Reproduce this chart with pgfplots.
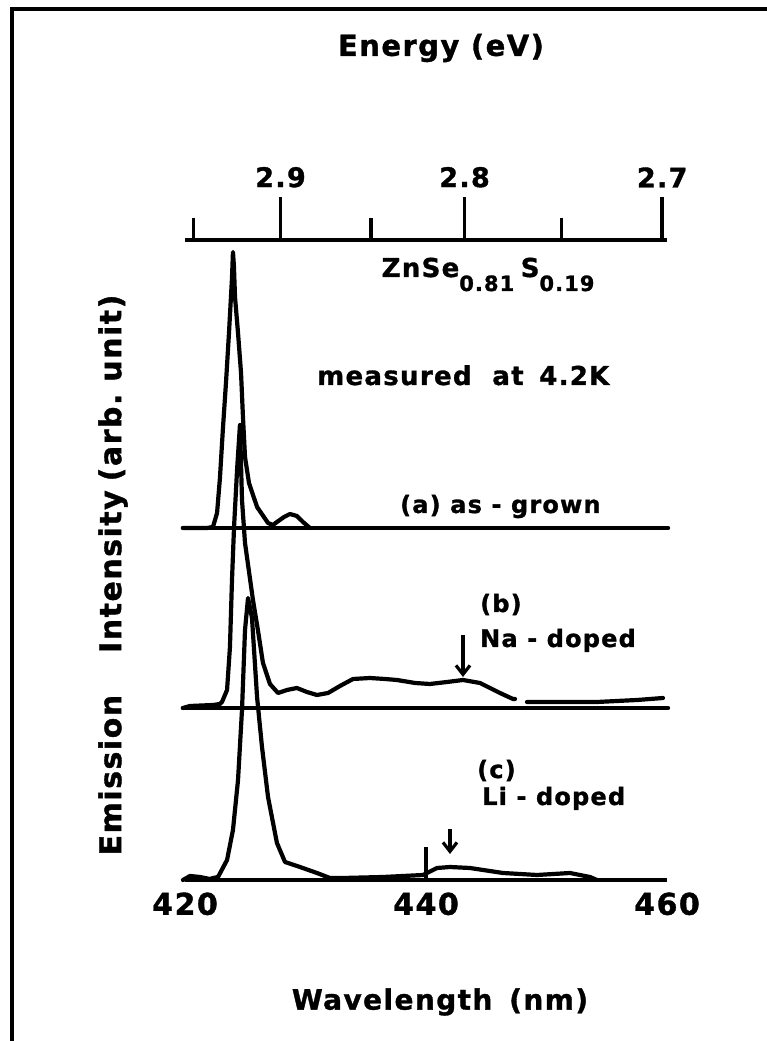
\documentclass[border=0pt]{standalone}
\usepackage{fontspec}
\setmainfont{DejaVu Sans}[LetterSpace=5, BoldFeatures={FakeBold=1.2}]
\usepackage{pgfplots}
\usepackage{pgfplotstable}
\pgfplotsset{compat=1.18}
\usetikzlibrary{arrows.meta}

\newcommand\lab[1]{\fontsize{#1}{#1}\selectfont\bfseries}

% Emission spectra: wavelength (nm) and height above each trace's own baseline
\pgfplotstableread{
x y
419.83 0
421.83 0
422.32 1
422.66 15
422.90 50
423.15 100
423.40 145
423.65 195
423.90 250
423.98 276
424.06 262
424.15 231
424.40 195
424.65 155
424.81 111
424.98 71
425.31 45
425.98 21
426.89 5
427.30 3
427.63 6
428.22 11
428.71 14
429.29 12
429.79 6
430.37 0
}\specA

\pgfplotstableread{
x y
419.83 0
420.41 2
422.32 3
422.90 4
423.07 6
423.49 18
423.73 61
423.90 128
424.07 181
424.32 238
424.56 283
424.73 208
424.98 165
425.64 108
426.05 78
426.47 45
427.05 24
427.72 15
428.46 18
429.29 20
430.12 16
430.95 13
431.87 15
432.86 22
433.94 29
435.35 30
436.60 29
437.59 28
439.09 25
440.33 24
441.74 26
443.07 28
444.48 25
445.31 20
446.14 15
447.22 9
447.39 9
nan nan
448.38 6
451.20 6
454.19 6
457.51 8
459.67 10
}\specB

\pgfplotstableread{
x y
419.83 0
420.41 4
421.24 3
422.07 1
422.32 2
422.74 3
423.49 20
423.98 50
424.40 100
424.73 170
424.98 250
425.23 282
425.40 272
425.56 262
425.98 183
426.39 133
426.89 83
427.63 37
428.30 18
429.54 13
430.95 7
432.03 2
433.11 2
436.43 3
439.75 5
440.91 12
441.99 13
443.65 12
446.39 7
449.21 5
451.95 7
453.61 3
454.19 0
}\specC

\tikzset{trace/.style={black, mark=none, line width=4.2pt, line join=round, line cap=round}}

\begin{document}
\begin{tikzpicture}
% outer frame
\draw[line width=3.5pt] (12pt,-20pt) -- (12pt,1032pt) -- (800pt,1032pt);

% wavelength axis and the three spectra
\begin{axis}[
  at={(185pt,161pt)}, anchor=south west,
  scale only axis, width=482pt, height=640pt,
  xmin=420, xmax=460, ymin=0, ymax=640,
  axis x line*=bottom, axis y line=none,
  x axis line style={line width=4.5pt,-},
  xtick={420,440,460},
  major tick length=0pt,
  /pgf/number format/assume math mode=true,
  xticklabel style={font=\lab{30}, yshift=-9pt},
  extra x ticks={440}, extra x tick labels={},
  extra x tick style={major tick length=33pt, tick align=inside,
                      tick style={line width=3.5pt, black}},
  clip=false,
  unbounded coords=jump,
]
% baselines of (a) and (b)
\addplot[trace, line width=4.5pt] coordinates {(419.83,352) (460.08,352)};
\addplot[trace, line width=4.5pt] coordinates {(419.83,172) (460.08,172)};

\addplot[trace] table[x=x, y expr=\thisrow{y}+352] {\specA};
\addplot[trace] table[x=x, y expr=\thisrow{y}+172] {\specB};
\addplot[trace] table[x=x, y=y] {\specC};

\draw[line width=3.2pt, -{Straight Barb[length=9pt,width=14pt]}] (443.07,245) -- (443.07,203);
\draw[line width=3.2pt, -{Straight Barb[length=9pt,width=14pt]}] (441.99,51) -- (441.99,26);

\node[anchor=base, inner sep=0pt] at (445.15,603)
  {\lab{26}ZnSe\raisebox{-14pt}{\lab{21}0.81}\hspace{0.25em}S\raisebox{-14pt}{\lab{21}0.19}};
\node[anchor=base west, inner sep=0pt] at (430.95,495) {\lab{26}measured\hspace{0.8em}at\hspace{0.6em}4.2K};
\node[anchor=base west, inner sep=0pt] at (437.84,367) {\lab{24}(a) as - grown};
\node[anchor=base west, inner sep=0pt] at (444.48,268) {\lab{24}(b)};
\node[anchor=base west, inner sep=0pt] at (444.48,233) {\lab{24}Na - doped};
\node[anchor=base west, inner sep=0pt] at (444.23,102) {\lab{24}(c)};
\node[anchor=base west, inner sep=0pt] at (444.65,75) {\lab{24}Li - doped};
\end{axis}

% photon energy scale along the top
\begin{axis}[
  at={(185pt,161pt)}, anchor=south west,
  scale only axis, width=482pt, height=640pt,
  xmin=419.6, xmax=459.6, ymin=0, ymax=640,
  axis x line*=top, axis y line=none,
  x axis line style={line width=4.5pt,-},
  xtick={427.53,442.80,459.20}, xticklabels={2.9,2.8,2.7},
  minor xtick={420.30,435.03,450.85},
  tick align=outside,
  major tick length=43pt, minor tick length=22pt,
  tick style={line width=3.5pt, black},
  xticklabel style={font=\lab{27}, yshift=6pt},
]
\addplot[draw=none] coordinates {(430,0)};
\end{axis}

\node at (441pt,993pt) {\lab{29}Energy\hspace{0.4em}(eV)};
\node at (440pt,39pt) {\lab{28}Wavelength\hspace{0.6em}(nm)};
\node[rotate=90] at (113pt,466pt) {\lab{30}Emission\hspace{1.4em}Intensity\hspace{0.3em}(arb.\ unit)};

\pgfresetboundingbox
\useasboundingbox (0pt,0pt) rectangle (766pt,1041pt);
\end{tikzpicture}
\end{document}
